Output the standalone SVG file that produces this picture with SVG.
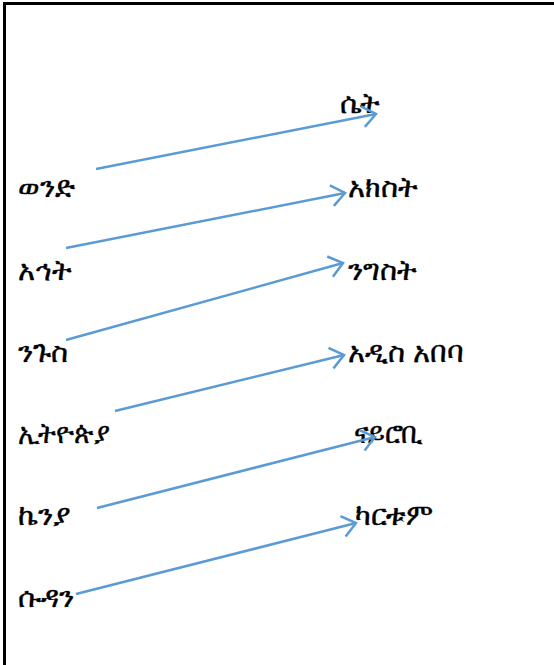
<svg xmlns="http://www.w3.org/2000/svg" width="554" height="665" viewBox="0 0 554 665">
<style>
.t{font-family:"Noto Sans","DejaVu Sans",sans-serif;font-size:29px;fill:#000;stroke:#000;stroke-width:0.4}
.c{stroke:#5B9BD5;stroke-width:2.5;fill:none;marker-end:url(#ah)}
</style>
<defs>
<marker id="ah" markerUnits="userSpaceOnUse" viewBox="-16 -13 18 26" refX="0" refY="0" markerWidth="18" markerHeight="26" orient="auto" overflow="visible">
<path d="M-13.4,-10.5 L0,0 L-13.4,10.5" fill="none" stroke="#5B9BD5" stroke-width="2.5"/>
</marker>
</defs>
<rect width="554" height="665" fill="#fff"/>
<g id="frame" stroke="#000" stroke-width="3">
<line x1="3" y1="3.5" x2="554" y2="3.5"/>
<line x1="4.5" y1="2" x2="4.5" y2="665"/>
</g>
<g id="n-wend"><text class="t" x="18" y="197">ወንድ</text></g>
<g id="n-ehit"><text class="t" x="18" y="280">አኅት</text></g>
<g id="n-nigus"><text class="t" x="18" y="362">ንጉስ</text></g>
<g id="n-ethiopia"><text class="t" x="18" y="443" textLength="92" lengthAdjust="spacingAndGlyphs">ኢትዮጵያ</text></g>
<g id="n-kenya"><text class="t" x="18" y="525">ኬንያ</text></g>
<g id="n-sudan"><text class="t" x="18" y="607">ሱዳን</text></g>
<g id="n-set"><text class="t" x="340" y="113">ሴት</text></g>
<g id="n-akist"><text class="t" x="348" y="197">አክስት</text></g>
<g id="n-nigist"><text class="t" x="348" y="280">ንግስት</text></g>
<g id="n-addis"><text class="t" x="348" y="362">አዲስ አበባ</text></g>
<g id="n-nairobi"><text class="t" x="354" y="443" textLength="69" lengthAdjust="spacingAndGlyphs">ናይሮቢ</text></g>
<g id="n-khartoum"><text class="t" x="355" y="525">ካርቱም</text></g>
<g id="connectors">
<line class="c" x1="96" y1="169" x2="376" y2="114"/>
<line class="c" x1="66" y1="248" x2="345" y2="193"/>
<line class="c" x1="66" y1="340" x2="343" y2="263"/>
<line class="c" x1="115" y1="411" x2="344" y2="355"/>
<line class="c" x1="97" y1="508" x2="375" y2="437"/>
<line class="c" x1="76" y1="594" x2="356" y2="523"/>
</g>
</svg>
